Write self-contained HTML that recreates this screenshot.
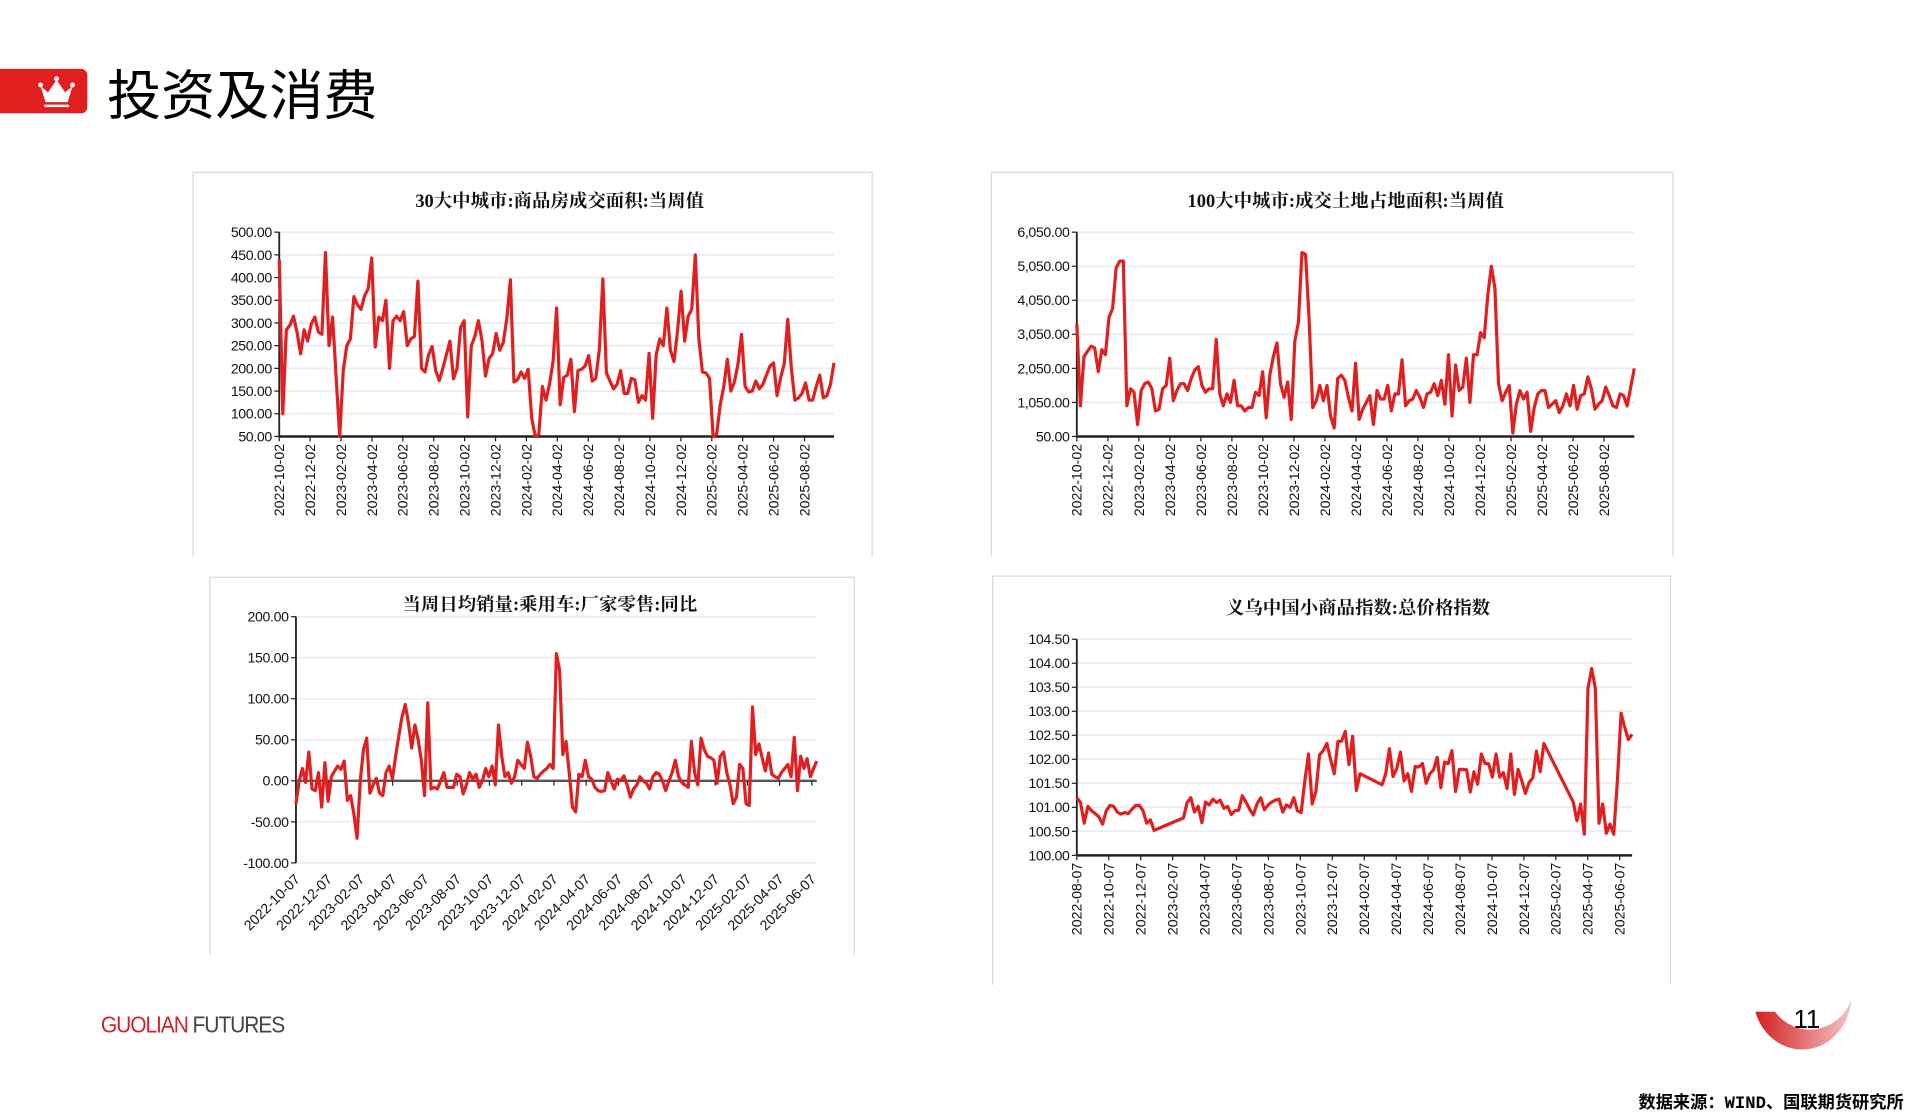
<!DOCTYPE html>
<html><head><meta charset="utf-8">
<style>
html,body{margin:0;padding:0;background:#fff;}
body{width:1919px;height:1114px;overflow:hidden;position:relative;}
#wrap{position:absolute;left:0;top:0;width:1560px;height:905px;transform:scale(1.2301,1.2309);transform-origin:0 0;font-family:"Liberation Sans","Noto Sans CJK SC",sans-serif;}
.abs{position:absolute;}
</style></head>
<body>
<div id="wrap">
  <div class="abs" style="left:0;top:56px;width:71px;height:36px;background:#e21f1f;border-radius:0 5px 5px 0;">
    <svg width="71" height="36">
      <path d="M37,27 L33,14 L39,19 L46,9 L53,19 L59,14 L55,27 Z" fill="#fff"/>
      <circle cx="33" cy="13" r="2" fill="#fff"/><circle cx="46" cy="8" r="2" fill="#fff"/><circle cx="59" cy="13" r="2" fill="#fff"/>
      <rect x="36" y="29" width="20" height="2" fill="#fff"/>
    </svg>
  </div>
  <div class="abs" style="left:87px;top:48px;font-size:44px;line-height:52px;color:#000;font-family:'Noto Sans CJK SC',sans-serif;">投资及消费</div>
  <div class="abs" style="left:82px;top:823px;font-size:19px;letter-spacing:-1px;transform:scaleX(0.9);transform-origin:0 0;font-family:'Liberation Sans',sans-serif;white-space:nowrap;"><span style="color:#d0202a">GUOLIAN</span> <span style="color:#444">FUTURES</span></div>
  <svg class="abs" style="left:0;top:0" width="1560" height="905" id="deco">
    <defs><linearGradient id="sg" x1="0" x2="1" y1="0" y2="0"><stop offset="0" stop-color="#d42020"/><stop offset="1" stop-color="#f4c4c4"/></linearGradient></defs>
    <path d="M1427,822 A40,44 0 0 0 1505,812 A36,38 0 0 1 1443,822 Z" fill="url(#sg)"/>
  </svg>
  <div class="abs" style="left:1458px;top:817px;font-size:21px;color:#000;">11</div>
  <div class="abs" style="left:1332px;top:885px;font-size:14px;font-weight:bold;color:#000;font-family:'Liberation Mono','Noto Sans CJK SC',monospace;white-space:nowrap;">数据来源：WIND、国联期货研究所</div>
  <svg class="abs" style="left:0;top:0" width="1560" height="905" id="charts"></svg>
</div>
<script>
// ---- Chart 1 data: 30大中城市 商品房成交面积 ----
const c1Values=[440,100,285,295,315,280,232,285,260,298,313,280,275,455,250,313,180,50,195,250,265,358,340,330,360,375,443,247,313,305,350,200,305,315,305,325,250,265,270,392,200,192,230,248,195,173,200,230,260,177,200,290,305,93,250,270,305,262,183,222,232,277,240,257,310,395,170,175,192,178,198,90,50,55,160,130,165,215,333,120,180,185,220,105,195,198,205,228,172,178,240,397,190,172,155,165,195,145,145,178,175,125,140,130,233,90,230,265,250,333,240,215,282,370,260,315,330,450,265,192,190,178,50,55,120,160,220,150,170,210,275,160,148,150,172,155,165,185,205,212,140,180,210,308,200,130,135,145,168,130,130,160,185,135,140,165,212];
const c1Ticks=["2022-10-02","2022-12-02","2023-02-02","2023-04-02","2023-06-02","2023-08-02","2023-10-02","2023-12-02","2024-02-02","2024-04-02","2024-06-02","2024-08-02","2024-10-02","2024-12-02","2025-02-02","2025-04-02","2025-06-02","2025-08-02"];
const c1YTicks=[50,100,150,200,250,300,350,400,450,500];
// ---- Chart 2 data: 100大中城市 成交土地占地面积 ----
const c2Values=[3350,950,2400,2550,2700,2650,1950,2600,2450,3550,3800,5000,5200,5200,950,1450,1350,400,1400,1600,1650,1450,800,850,1450,1550,2350,1100,1400,1600,1600,1400,1750,2000,2100,1550,1350,1450,1450,2900,1300,950,1300,1050,1700,950,950,800,900,900,1350,1250,1950,600,1850,2400,2800,1600,1200,1650,550,2850,3400,5450,5400,3500,900,1100,1550,1100,1550,650,300,1750,1850,1700,1200,800,2200,550,850,1050,1250,400,1400,1150,1150,1550,800,1300,1300,2300,950,1100,1150,1400,1200,900,1300,1350,1600,1250,1700,1000,2450,650,2150,1400,1500,2350,1050,2450,2450,3100,2950,4200,5050,4400,1600,1100,1350,1550,150,1000,1400,1150,1350,200,900,1300,1400,1400,900,1000,1100,750,950,1300,950,1550,850,1250,1300,1800,1450,850,1000,1100,1500,1250,950,900,1300,1250,950,1500,2050];
const c2Ticks=c1Ticks;
const c2YTicks=[50,1050,2050,3050,4050,5050,6050];
// ---- Chart 3 data: 乘用车零售同比 ----
const c3Values=[-28,0,15,-2,35,-10,-12,10,-32,22,-25,5,12,18,14,24,-24,-18,-40,-70,0,38,52,-15,-5,3,-15,-18,10,18,2,30,55,78,93,70,40,68,50,25,-18,95,-10,-8,-10,0,10,-8,-8,-8,8,5,-16,-5,10,2,8,-8,0,15,5,18,-5,68,30,5,10,-3,5,25,20,15,47,30,5,3,8,12,15,20,15,155,135,32,48,10,-32,-38,8,5,25,5,2,-8,-12,-13,-12,10,0,-10,2,0,6,-5,-20,-10,-5,5,0,-3,-10,5,10,8,0,-12,0,10,25,5,-2,-5,-8,48,10,-5,52,38,30,28,25,-3,30,35,10,-5,-28,-20,20,15,-28,-30,90,32,45,28,12,34,8,5,3,10,15,20,5,53,-12,30,15,27,5,15,24];
const c3Ticks=["2022-10-07","2022-12-07","2023-02-07","2023-04-07","2023-06-07","2023-08-07","2023-10-07","2023-12-07","2024-02-07","2024-04-07","2024-06-07","2024-08-07","2024-10-07","2024-12-07","2025-02-07","2025-04-07","2025-06-07"];
const c3YTicks=[-100,-50,0,50,100,150,200];
// ---- Chart 4 data: 义乌小商品指数 (week offset from 2022-08-07) ----
const c4Weeks=[0,1,2,3,4,5,6,7,8,9,10,11,12,13,14,15,16,17,18,19,20,21,29,30,31,32,33,34,35,36,37,38,39,40,41,42,43,44,45,46,47,48,49,50,51,52,53,54,55,56,57,58,59,60,61,62,63,64,65,66,67,68,69,70,71,72,73,74,75,76,77,83,84,85,86,87,88,89,90,91,92,93,94,95,96,97,98,99,100,101,102,103,104,105,106,107,108,109,110,111,112,113,114,115,116,117,118,119,120,121,122,123,124,125,126,127,135,136,137,138,139,140,141,142,143,144,145,146,147,148,149,150,151];
const c4Values=[101.2,101.1,100.67,101.02,100.93,100.87,100.8,100.65,100.93,101.04,101.02,100.9,100.86,100.89,100.87,100.96,101.04,101.04,100.93,100.67,100.74,100.52,100.78,101.1,101.2,100.9,101.02,100.68,101.11,101.05,101.17,101.1,101.15,100.98,101.02,100.85,100.93,100.94,101.24,101.11,100.96,100.84,101.07,101.2,100.95,101.05,101.11,101.15,101.17,100.9,101.05,101.0,101.2,100.93,100.89,101.55,102.11,101.07,101.33,102.09,102.18,102.33,102.0,101.7,102.37,102.38,102.58,101.89,102.48,101.35,101.7,101.47,101.7,102.22,101.64,101.81,102.15,101.55,101.7,101.33,101.85,101.84,101.91,101.5,101.7,101.78,102.04,101.41,101.94,101.91,102.18,101.33,101.79,101.79,101.78,101.32,101.74,101.48,102.11,101.91,101.91,101.63,102.11,101.63,101.72,101.39,102.11,101.27,101.79,101.55,101.29,101.52,101.61,102.17,101.74,102.33,101.11,100.72,101.07,100.44,103.48,103.89,103.48,100.67,101.07,100.46,100.65,100.44,101.55,102.96,102.66,102.41,102.52];
const c4Ticks=["2022-08-07","2022-10-07","2022-12-07","2023-02-07","2023-04-07","2023-06-07","2023-08-07","2023-10-07","2023-12-07","2024-02-07","2024-04-07","2024-06-07","2024-08-07","2024-10-07","2024-12-07","2025-02-07","2025-04-07","2025-06-07"];
const c4YTicks=[100,100.5,101,101.5,102,102.5,103,103.5,104,104.5];

const NS="http://www.w3.org/2000/svg";
const root=document.getElementById('charts');
function mk(tag,attrs,parent){const e=document.createElementNS(NS,tag);for(const k in attrs)e.setAttribute(k,attrs[k]);parent.appendChild(e);return e;}
function fmt(v){return v.toLocaleString('en-US',{minimumFractionDigits:2,maximumFractionDigits:2});}
const RED="#e02020";

function drawChart(cfg){
  const g=mk('g',{},root);
  
  
  const [bx0,by0,bx1,by1]=cfg.box;
  const box=mk('path',{d:`M${bx0},${by1} L${bx0},${by0} L${bx1},${by0} L${bx1},${by1}`,fill:'#fff',stroke:'#d8d8d8','stroke-width':1},g);
  
  
  const t=mk('text',{x:cfg.titleX,y:cfg.titleY,'text-anchor':'middle','font-size':15,'font-weight':'bold','font-family':'"Liberation Serif","Noto Serif CJK SC",serif',fill:'#111'},g);
  t.textContent=cfg.title;
  
  
  const [x0,x1,yTop,yBot]=cfg.plot;
  const ymin=cfg.yTicks[0],ymax=cfg.yTicks[cfg.yTicks.length-1];
  const Y=v=>yBot-(v-ymin)/(ymax-ymin)*(yBot-yTop);
  const X=cfg.X;
  cfg.yTicks.forEach(v=>{
    const gl=mk('line',{x1:x0,x2:x1,y1:Y(v),y2:Y(v),stroke:'#ececec','stroke-width':1.5},g);
    
    
    mk('line',{x1:x0-4,x2:x0,y1:Y(v),y2:Y(v),stroke:'#222','stroke-width':1},g);
    const tl=mk('text',{x:x0-6,y:Y(v)+4,'text-anchor':'end','font-size':11.5,fill:'#111','letter-spacing':'-0.3'},g);
    tl.textContent=fmt(v);
    
    
  });
  const ya=mk('line',{x1:x0,x2:x0,y1:yTop,y2:yBot,stroke:'#222','stroke-width':1.5},g);
  
  
  const axY=cfg.xAxisAt!==undefined?Y(cfg.xAxisAt):yBot;
  const xa=mk('line',{x1:x0,x2:x1,y1:axY,y2:axY,stroke:cfg.xAxisAt!==undefined?'#555':'#222','stroke-width':2},g);
  
  
  cfg.xTicks.forEach((lab,i)=>{
    const tx=cfg.tickX(i);
    mk('line',{x1:tx,x2:tx,y1:axY,y2:axY+4,stroke:'#222','stroke-width':1},g);
    let tl;
    if(cfg.rot45){
      tl=mk('text',{x:tx+4,y:yBot+14,'text-anchor':'end','font-size':11.5,fill:'#111',transform:`rotate(-45 ${tx+4} ${yBot+14})`},g);
    }else{
      tl=mk('text',{x:tx+4,y:yBot+6,'text-anchor':'end','font-size':11.5,fill:'#111',transform:`rotate(-90 ${tx+4} ${yBot+6})`},g);
    }
    tl.textContent=lab;
    
    
  });
  let d='';
  cfg.values.forEach((v,i)=>{d+=(i?'L':'M')+X(i).toFixed(2)+','+Y(v).toFixed(2);});
  const p=mk('path',{d:d,fill:'none',stroke:RED,'stroke-width':2.6,'stroke-linejoin':'round'},g);
  
  
}

// chart 1
drawChart({name:'chart-30-city-housing-sales',box:[157,140,709,452],title:'30大中城市:商品房成交面积:当周值',titleX:455,titleY:168,
  plot:[227,678,188.6,354.6],yTicks:c1YTicks,values:c1Values,xTicks:c1Ticks,
  X:i=>227+i*(678-227)/(c1Values.length-1),tickX:i=>227+i*(654-227)/(c1Ticks.length-1)});
// chart 2
drawChart({name:'chart-100-city-land-area',box:[806,140,1360,452],title:'100大中城市:成交土地占地面积:当周值',titleX:1094,titleY:168,
  plot:[875.4,1328.6,188.6,354.6],yTicks:c2YTicks,values:c2Values,xTicks:c2Ticks,
  X:i=>875.4+i*(1328.6-875.4)/(c2Values.length-1),tickX:i=>875.4+i*(1304-875.4)/(c2Ticks.length-1)});
// chart 3
drawChart({name:'chart-passenger-car-retail-yoy',box:[170.6,469,694.5,776],title:'当周日均销量:乘用车:厂家零售:同比',titleX:447,titleY:496,
  plot:[240.6,664,501,701],yTicks:c3YTicks,values:c3Values,xTicks:c3Ticks,xAxisAt:0,rot45:true,
  X:i=>240.6+i*(664-240.6)/(c3Values.length-1),tickX:i=>240.6+i*(660-240.6)/(c3Ticks.length-1)});
// chart 4
const c4Max=c4Weeks[c4Weeks.length-1];
drawChart({name:'chart-yiwu-price-index',box:[807,468,1358,800],title:'义乌中国小商品指数:总价格指数',titleX:1104,titleY:499,
  plot:[875.4,1326.8,519.3,694.9],yTicks:c4YTicks,values:c4Values,xTicks:c4Ticks,
  X:i=>875.4+c4Weeks[i]/c4Max*(1326.8-875.4),tickX:i=>875.4+i*(1316.7-875.4)/(c4Ticks.length-1)});
</script>
</body></html>
